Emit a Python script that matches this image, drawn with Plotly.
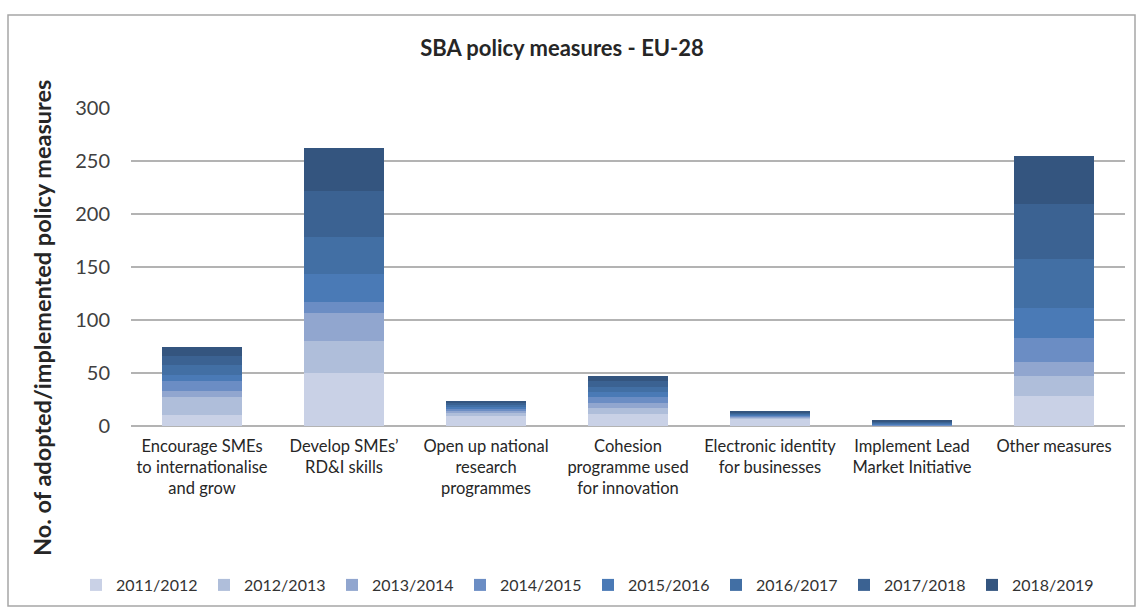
import plotly.graph_objects as go

# Policy areas (x categories)
categories = [
    "Encourage SMEs<br>to internationalise<br>and grow",
    "Develop SMEs’<br>RD&amp;I skills",
    "Open up national<br>research<br>programmes",
    "Cohesion<br>programme used<br>for innovation",
    "Electronic identity<br>for businesses",
    "Implement Lead<br>Market Initiative",
    "Other measures",
]

# Reporting periods (stack order, bottom to top)
periods = ["2011/2012", "2012/2013", "2013/2014", "2014/2015",
           "2015/2016", "2016/2017", "2017/2018", "2018/2019"]

# Number of measures per period for each policy area
v_2011_2012 = [10, 50, 9, 11, 7, 0, 28]
v_2012_2013 = [17, 30, 3, 6, 1, 0, 19]
v_2013_2014 = [6, 27, 2, 5, 1, 0, 13]
v_2014_2015 = [9, 10, 2, 5, 1, 1, 23]
v_2015_2016 = [6, 26, 2, 5, 1, 1, 28]
v_2016_2017 = [10, 35, 2, 5, 1, 1, 47]
v_2017_2018 = [8, 44, 2, 5, 1, 1, 51]
v_2018_2019 = [9, 40, 2, 5, 1, 1, 46]

series = [v_2011_2012, v_2012_2013, v_2013_2014, v_2014_2015,
          v_2015_2016, v_2016_2017, v_2017_2018, v_2018_2019]

colors = ["#C9D1E6", "#AFBEDA", "#91A6CF", "#6B8DC4",
          "#4A7AB6", "#426FA4", "#3B6292", "#34557F"]

FONT = "Lato, 'Open Sans', sans-serif"

fig = go.Figure()
for name, vals, col in zip(periods, series, colors):
    fig.add_trace(go.Bar(
        name=name, x=categories, y=vals,
        marker=dict(color=col, line=dict(width=0)),
        width=0.57,
    ))

fig.update_layout(
    barmode="stack",
    width=1140, height=612,
    margin=dict(l=131, r=15, t=108, b=186, autoexpand=False),
    paper_bgcolor="white", plot_bgcolor="white",
    font=dict(family=FONT, color="#404040", size=15),
    title=dict(text="<b>SBA policy measures - EU-28</b>",
               x=(562 / 1140), xanchor="center", y=1 - 48 / 612, yanchor="middle",
               font=dict(size=22, color="#262626", family=FONT)),
    showlegend=True,
    legend=dict(orientation="h", x=(76 - 131) / 994, xanchor="left",
                y=(426 - 585) / 318, yanchor="middle",
                traceorder="normal", entrywidth=83, entrywidthmode="pixels",
                itemwidth=30, font=dict(size=16, color="#333333", family=FONT),
                bgcolor="rgba(0,0,0,0)"),
)

fig.update_yaxes(range=[0, 300], dtick=50, showgrid=True, gridcolor="#B3B3B3",
                 gridwidth=1.5, zeroline=True, zerolinecolor="#B3B3B3", zerolinewidth=1.5,
                 showline=False, ticks="", ticklabelstandoff=20,
                 tickfont=dict(size=20, color="#404040", family=FONT))
fig.update_xaxes(showline=False, ticks="", showgrid=False, ticklabelstandoff=8,
                 tickfont=dict(size=16.5, color="#262626", family=FONT))

# Vertical axis title
fig.add_annotation(text="<b>No. of adopted/implemented policy measures</b>",
                   xref="paper", yref="paper", x=(42 - 131) / 994, y=(426 - 318) / 318,
                   textangle=-90, showarrow=False, xanchor="center", yanchor="middle",
                   font=dict(size=23.5, color="#262626", family=FONT))

# Outer chart frame
fig.add_shape(type="rect", xref="paper", yref="paper",
              x0=(8 - 131) / 994, x1=(1135 - 131) / 994,
              y0=(426 - 606) / 318, y1=(426 - 15) / 318,
              line=dict(color="#A6A6A6", width=1.5), fillcolor="rgba(0,0,0,0)",
              layer="below")

fig.write_html("out.html")
